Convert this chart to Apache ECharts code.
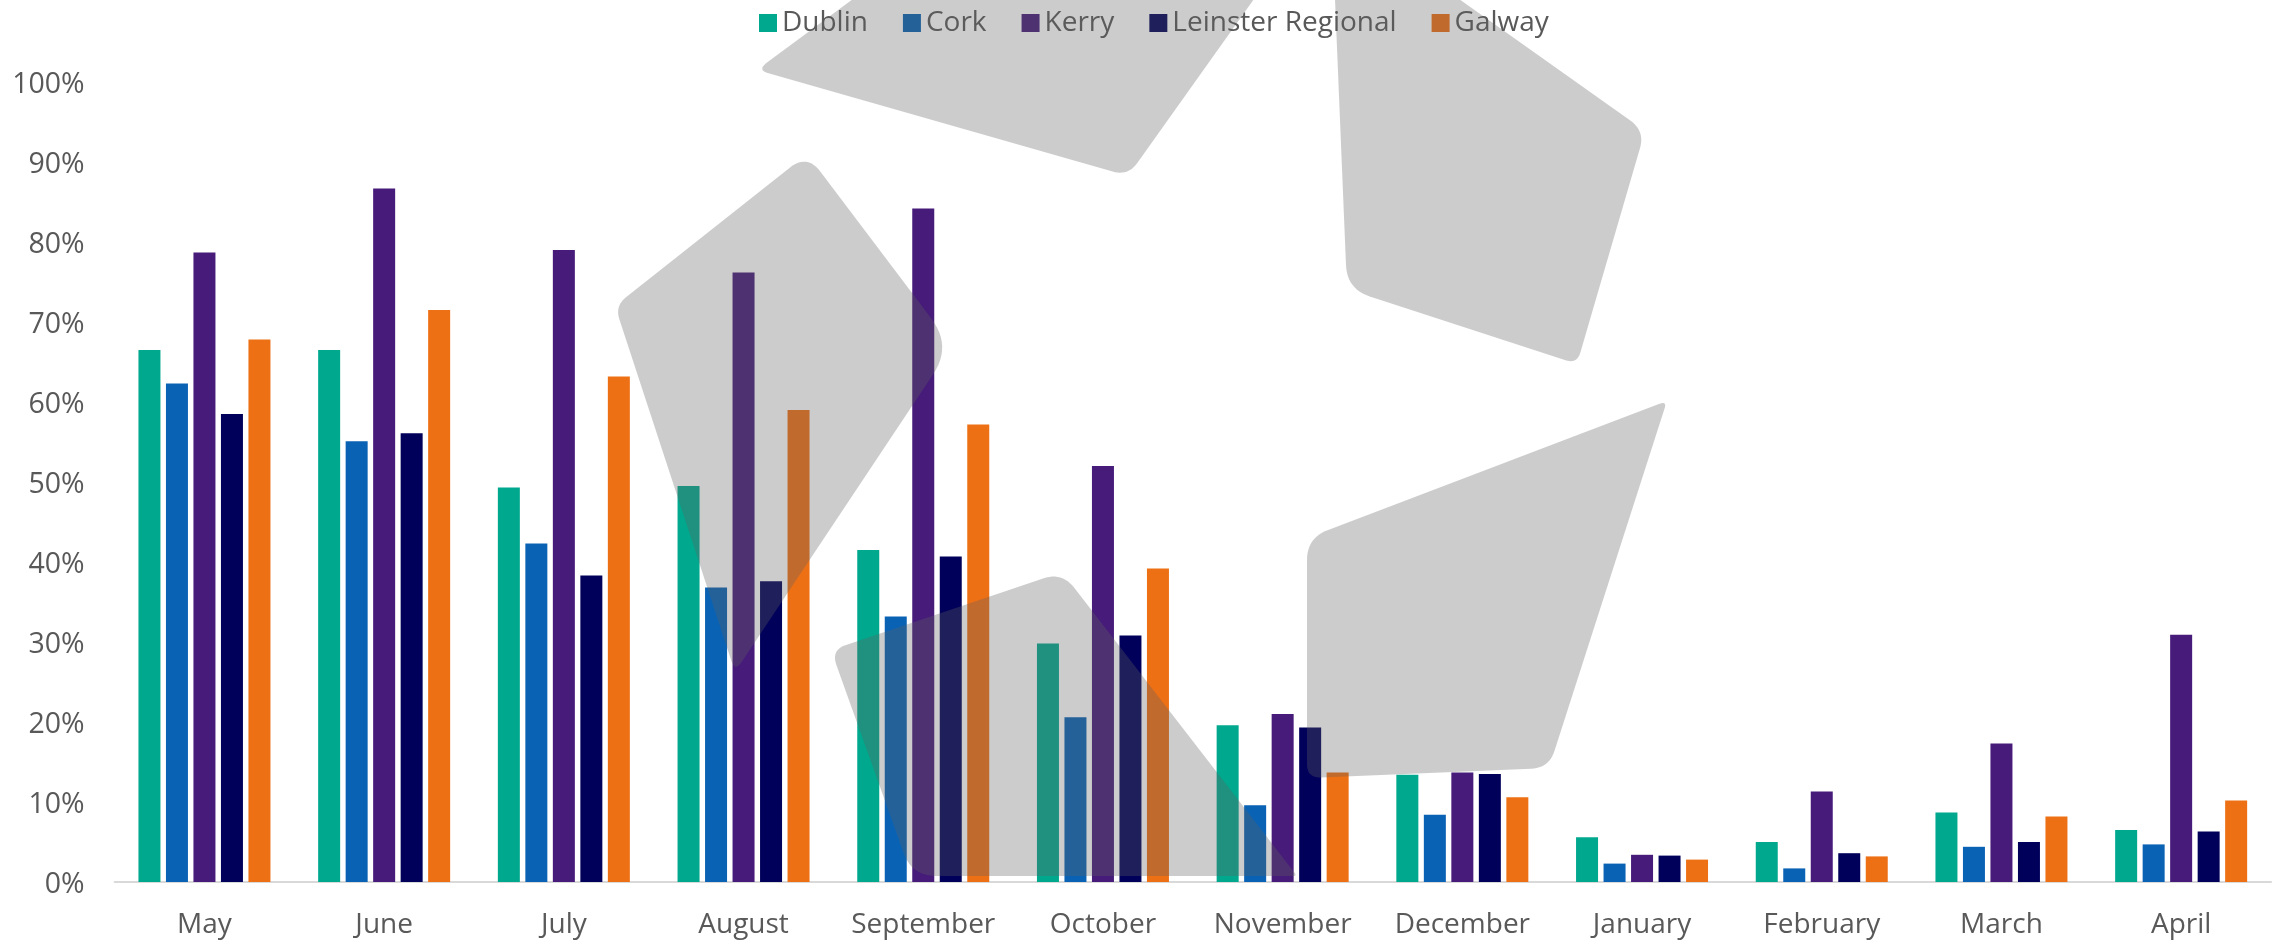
<!DOCTYPE html>
<html>
<head>
<meta charset="utf-8">
<style>html,body{margin:0;padding:0;background:#fff}#chart{width:2280px;height:940px}</style>
<script src="https://cdn.jsdelivr.net/npm/echarts@6/dist/echarts.min.js"></script>
</head>
<body>
<div id="chart"></div>
<script>
const months = ['May','June','July','August','September','October','November','December','January','February','March','April'];
const dublin = [66.5,66.5,49.3,49.5,41.5,29.8,19.6,13.4,5.6,5.0,8.7,6.5];
const cork = [62.3,55.1,42.3,36.8,33.2,20.6,9.6,8.4,2.3,1.7,4.4,4.7];
const kerry = [78.7,86.7,79.0,76.2,84.2,52.0,21.0,13.7,3.4,11.3,17.3,30.9];
const leinster = [58.5,56.1,38.3,37.6,40.7,30.8,19.3,13.5,3.3,3.6,5.0,6.3];
const galway = [67.8,71.5,63.2,59.0,57.2,39.2,13.7,10.6,2.8,3.2,8.2,10.2];

const FONT = '"Open Sans", sans-serif';
const TEXT = '#595959';

// Watermark logo: five translucent rounded panels laid over the whole chart.
// Each corner is [x, y, cornerRadius] in page pixels.
const logoPanels = [
  [[853,-1,0],[757,70,12],[1128,176,16],[1254,-1,0]],
  [[1335,-1,0],[1347,289,24],[1577,364,12],[1645,131,18],[1459,-1,0]],
  [[807,154,22],[615,306,14],[735,672,12],[952,346,34]],
  [[831,650,16],[1062,572,20],[1297,876,4],[912,876,24]],
  [[1307,538,22],[1667,401,8],[1549,768,18],[1307,778,14]]
];

// Replace each corner with a sampled quadratic curve so it can be a plain polygon.
function roundedOutline(corners) {
  const out = [];
  corners.forEach((c, i) => {
    const prev = corners[(i + corners.length - 1) % corners.length];
    const next = corners[(i + 1) % corners.length];
    const r = c[2];
    if (!r) { out.push([c[0], c[1]]); return; }
    const toward = (p) => {
      const d = Math.hypot(p[0] - c[0], p[1] - c[1]);
      return [c[0] + (p[0] - c[0]) * r / d, c[1] + (p[1] - c[1]) * r / d];
    };
    const a = toward(prev), b = toward(next);
    for (let s = 0; s <= 12; s++) {
      const t = s / 12, u = 1 - t;
      out.push([
        u * u * a[0] + 2 * u * t * c[0] + t * t * b[0],
        u * u * a[1] + 2 * u * t * c[1] + t * t * b[1]
      ]);
    }
  });
  return out;
}

function barSeries(name, data, color) {
  return { name, type: 'bar', data, barWidth: 22, barGap: '25%', itemStyle: { color } };
}

const chart = echarts.init(document.getElementById('chart'), null, { renderer: 'canvas' });
chart.setOption({
  animation: false,
  backgroundColor: '#ffffff',
  legend: {
    left: 754, top: 4,
    itemWidth: 18, itemHeight: 18, itemGap: 35,
    icon: 'rect',
    textStyle: { fontFamily: FONT, fontSize: 28, color: TEXT },
    data: ['Dublin','Cork','Kerry','Leinster Regional','Galway']
  },
  grid: { left: 114.6, right: 9, top: 82, bottom: 58 },
  xAxis: {
    type: 'category',
    data: months,
    offset: 1,
    axisTick: { show: false },
    axisLine: { lineStyle: { color: '#D9D9D9', width: 2 } },
    axisLabel: { fontFamily: FONT, fontSize: 28, color: TEXT, margin: 28, interval: 0 }
  },
  yAxis: {
    type: 'value', min: 0, max: 100, interval: 10,
    splitLine: { show: false },
    axisLine: { show: false },
    axisTick: { show: false },
    axisLabel: {
      fontFamily: FONT, fontSize: 28.5, color: TEXT, margin: 30,
      verticalAlign: 'top', lineHeight: 5,
      formatter: '{value}%'
    }
  },
  series: [
    barSeries('Dublin', dublin, '#00A88D'),
    barSeries('Cork', cork, '#0A62B4'),
    barSeries('Kerry', kerry, '#461B7A'),
    barSeries('Leinster Regional', leinster, '#00005A'),
    barSeries('Galway', galway, '#EE7015')
  ],
  graphic: logoPanels.map((p) => ({
    type: 'polygon',
    z: 100,
    silent: true,
    shape: { points: roundedOutline(p) },
    style: { fill: 'rgba(97,97,97,0.32)' }
  }))
});
</script>
</body>
</html>
